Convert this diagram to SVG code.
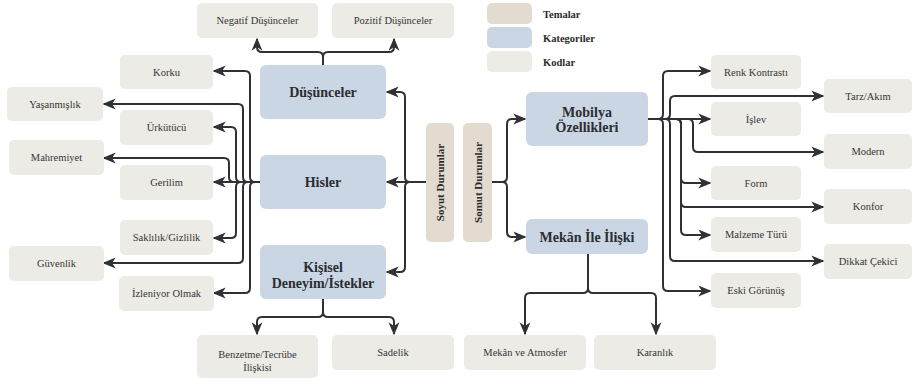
<svg xmlns="http://www.w3.org/2000/svg" width="913" height="382" viewBox="0 0 913 382">
  <style>
    .code { fill: #ecebe6; }
    .cat { fill: #cad6e3; }
    .theme { fill: #e3dbcf; }
    text { font-family: "Liberation Serif", "DejaVu Serif", serif; }
    .ct { font-size: 10.5px; fill: #363636; text-anchor: middle; }
    .kt { font-size: 14px; font-weight: bold; fill: #2a2d31; text-anchor: middle; }
    .tt { font-size: 11px; font-weight: bold; fill: #2c2c2c; text-anchor: middle; }
    .lt { font-size: 10.5px; font-weight: bold; fill: #2c2c2c; }
    .conn path { fill: none; stroke: #2f3134; stroke-width: 2; marker-end: url(#arrow); }
  </style>
  <defs>
    <marker id="arrow" viewBox="0 0 10 10" refX="9" refY="5" markerWidth="13" markerHeight="13" markerUnits="userSpaceOnUse" orient="auto">
      <path d="M0,0.8 L10,5 L0,9.2 L2.8,5 Z" fill="#2f3134"/>
    </marker>
  </defs>
  <rect width="913" height="382" fill="#ffffff"/>

  <!-- legend -->
  <g id="legend">
    <rect x="487" y="3" width="45" height="21" rx="5" class="theme"/>
    <text x="543" y="18" class="lt">Temalar</text>
    <rect x="487" y="27" width="45" height="21" rx="5" class="cat"/>
    <text x="543" y="42" class="lt">Kategoriler</text>
    <rect x="487" y="51" width="45" height="21" rx="5" class="code"/>
    <text x="543" y="66" class="lt">Kodlar</text>
  </g>

  <!-- connectors -->
  <g id="connectors" class="conn">
    <!-- Düşünceler -> top codes -->
    <path d="M323 65 V57 Q323 52 318 52 H262 Q257 52 257 47 V39"/>
    <path d="M323 65 V57 Q323 52 328 52 H389 Q394 52 394 47 V39"/>
    <!-- Soyut Durumlar -> categories -->
    <path d="M426 182 H410 Q405 182 405 177 V97 Q405 92 400 92 H387"/>
    <path d="M426 182 H387"/>
    <path d="M426 182 H410 Q405 182 405 187 V267 Q405 272 400 272 H387"/>
    <!-- Somut Durumlar -> categories -->
    <path d="M492 182 H502 Q507 182 507 177 V124 Q507 119 512 119 H525"/>
    <path d="M492 182 H502 Q507 182 507 187 V232 Q507 237 512 237 H525"/>
    <!-- Hisler -> codes -->
    <path d="M260 182 H255 Q250 182 250 177 V76 Q250 71 245 71 H214"/>
    <path d="M260 182 H255 Q250 182 250 187 V288 Q250 293 245 293 H214"/>
    <path d="M260 182 H248 Q243 182 243 177 V109 Q243 104 238 104 H104"/>
    <path d="M260 182 H248 Q243 182 243 187 V258 Q243 263 238 263 H104"/>
    <path d="M260 182 H241 Q236 182 236 177 V132 Q236 127 231 127 H214"/>
    <path d="M260 182 H241 Q236 182 236 187 V233 Q236 238 231 238 H214"/>
    <path d="M260 182 H234 Q229 182 229 177 V163 Q229 158 224 158 H104"/>
    <path d="M260 182 H214"/>
    <!-- Kişisel Deneyim/İstekler -> bottom codes -->
    <path d="M323 299 V312 Q323 317 318 317 H262 Q257 317 257 322 V334"/>
    <path d="M323 299 V312 Q323 317 328 317 H389 Q394 317 394 322 V334"/>
    <!-- Mekân İle İlişki -> bottom codes -->
    <path d="M588 254 V288 Q588 293 583 293 H530 Q525 293 525 298 V334"/>
    <path d="M588 254 V288 Q588 293 593 293 H651 Q656 293 656 298 V334"/>
    <!-- Mobilya Özellikleri -> codes -->
    <path d="M648 119 H710"/>
    <path d="M648 119 H658 Q663 119 663 114 V76 Q663 71 668 71 H710"/>
    <path d="M648 119 H658 Q663 119 663 124 V286 Q663 291 668 291 H710"/>
    <path d="M648 119 H665 Q670 119 670 114 V101 Q670 96 675 96 H823"/>
    <path d="M648 119 H665 Q670 119 670 124 V256 Q670 261 675 261 H823"/>
    <path d="M648 119 H676 Q681 119 681 124 V178 Q681 183 686 183 H710"/>
    <path d="M648 119 H676 Q681 119 681 124 V202 Q681 207 686 207 H823"/>
    <path d="M648 119 H676 Q681 119 681 124 V230 Q681 235 686 235 H710"/>
    <path d="M648 119 H688 Q693 119 693 124 V147 Q693 152 698 152 H823"/>
  </g>

  <!-- themes -->
  <g id="soyut-durumlar">
    <rect x="426" y="123" width="28" height="119" rx="5" class="theme"/>
    <text transform="translate(444 182.5) rotate(-90)" class="tt">Soyut Durumlar</text>
  </g>
  <g id="somut-durumlar">
    <rect x="463" y="123" width="29" height="119" rx="5" class="theme"/>
    <text transform="translate(481.5 182.5) rotate(-90)" class="tt">Somut Durumlar</text>
  </g>

  <!-- categories -->
  <g id="dusunceler">
    <rect x="260" y="65" width="126" height="54" rx="6" class="cat"/>
    <text x="323" y="97" class="kt">Düşünceler</text>
  </g>
  <g id="hisler">
    <rect x="260" y="155" width="126" height="54" rx="6" class="cat"/>
    <text x="323" y="187" class="kt">Hisler</text>
  </g>
  <g id="kisisel-deneyim">
    <rect x="260" y="245" width="126" height="54" rx="6" class="cat"/>
    <text x="323" y="272" class="kt">Kişisel</text>
    <text x="323" y="288" class="kt">Deneyim/İstekler</text>
  </g>
  <g id="mobilya-ozellikleri">
    <rect x="526" y="92" width="122" height="54" rx="6" class="cat"/>
    <text x="587" y="117" class="kt">Mobilya</text>
    <text x="587" y="132" class="kt">Özellikleri</text>
  </g>
  <g id="mekan-ile-iliski">
    <rect x="526" y="219" width="122" height="35" rx="6" class="cat"/>
    <text x="587" y="241.5" class="kt">Mekân İle İlişki</text>
  </g>

  <!-- codes: thoughts -->
  <g id="negatif-dusunceler">
    <rect x="197" y="3" width="121" height="35" rx="5" class="code"/>
    <text x="257.5" y="24" class="ct">Negatif Düşünceler</text>
  </g>
  <g id="pozitif-dusunceler">
    <rect x="332" y="3" width="122" height="35" rx="5" class="code"/>
    <text x="393" y="24" class="ct">Pozitif Düşünceler</text>
  </g>

  <!-- codes: feelings -->
  <g id="korku">
    <rect x="120" y="55" width="93" height="34" rx="5" class="code"/>
    <text x="166.5" y="76" class="ct">Korku</text>
  </g>
  <g id="yasanmislik">
    <rect x="7" y="87" width="96" height="34" rx="5" class="code"/>
    <text x="55" y="108" class="ct">Yaşanmışlık</text>
  </g>
  <g id="urkutucu">
    <rect x="120" y="110" width="93" height="35" rx="5" class="code"/>
    <text x="166.5" y="131" class="ct">Ürkütücü</text>
  </g>
  <g id="mahremiyet">
    <rect x="9" y="140" width="95" height="35" rx="5" class="code"/>
    <text x="56.5" y="161" class="ct">Mahremiyet</text>
  </g>
  <g id="gerilim">
    <rect x="120" y="165" width="93" height="35" rx="5" class="code"/>
    <text x="166.5" y="186" class="ct">Gerilim</text>
  </g>
  <g id="saklilik-gizlilik">
    <rect x="120" y="220" width="93" height="35" rx="5" class="code"/>
    <text x="166.5" y="241" class="ct">Saklılık/Gizlilik</text>
  </g>
  <g id="guvenlik">
    <rect x="9" y="246" width="95" height="35" rx="5" class="code"/>
    <text x="56.5" y="267" class="ct">Güvenlik</text>
  </g>
  <g id="izleniyor-olmak">
    <rect x="119" y="276" width="95" height="35" rx="5" class="code"/>
    <text x="166.5" y="297" class="ct">İzleniyor Olmak</text>
  </g>

  <!-- codes: personal experience -->
  <g id="benzetme-tecrube">
    <rect x="197" y="335" width="121" height="43" rx="5" class="code"/>
    <text x="257.5" y="358" class="ct">Benzetme/Tecrübe</text>
    <text x="257.5" y="371" class="ct">İlişkisi</text>
  </g>
  <g id="sadelik">
    <rect x="332" y="335" width="122" height="35" rx="5" class="code"/>
    <text x="393" y="356" class="ct">Sadelik</text>
  </g>

  <!-- codes: space -->
  <g id="mekan-ve-atmosfer">
    <rect x="464" y="335" width="122" height="35" rx="5" class="code"/>
    <text x="525" y="356" class="ct">Mekân ve Atmosfer</text>
  </g>
  <g id="karanlik">
    <rect x="594" y="335" width="122" height="35" rx="5" class="code"/>
    <text x="655" y="356" class="ct">Karanlık</text>
  </g>

  <!-- codes: furniture -->
  <g id="renk-kontrasti">
    <rect x="711" y="55" width="90" height="34" rx="5" class="code"/>
    <text x="756" y="76" class="ct">Renk Kontrastı</text>
  </g>
  <g id="tarz-akim">
    <rect x="824" y="79" width="88" height="34" rx="5" class="code"/>
    <text x="868" y="100" class="ct">Tarz/Akım</text>
  </g>
  <g id="islev">
    <rect x="711" y="102" width="90" height="34" rx="5" class="code"/>
    <text x="756" y="123" class="ct">İşlev</text>
  </g>
  <g id="modern">
    <rect x="824" y="134" width="88" height="35" rx="5" class="code"/>
    <text x="868" y="155" class="ct">Modern</text>
  </g>
  <g id="form">
    <rect x="711" y="166" width="90" height="34" rx="5" class="code"/>
    <text x="756" y="187" class="ct">Form</text>
  </g>
  <g id="konfor">
    <rect x="824" y="189" width="88" height="35" rx="5" class="code"/>
    <text x="868" y="210" class="ct">Konfor</text>
  </g>
  <g id="malzeme-turu">
    <rect x="711" y="217" width="90" height="35" rx="5" class="code"/>
    <text x="756" y="238" class="ct">Malzeme Türü</text>
  </g>
  <g id="dikkat-cekici">
    <rect x="824" y="244" width="88" height="35" rx="5" class="code"/>
    <text x="868" y="265" class="ct">Dikkat Çekici</text>
  </g>
  <g id="eski-gorunus">
    <rect x="711" y="273" width="90" height="35" rx="5" class="code"/>
    <text x="756" y="294" class="ct">Eski Görünüş</text>
  </g>
</svg>
